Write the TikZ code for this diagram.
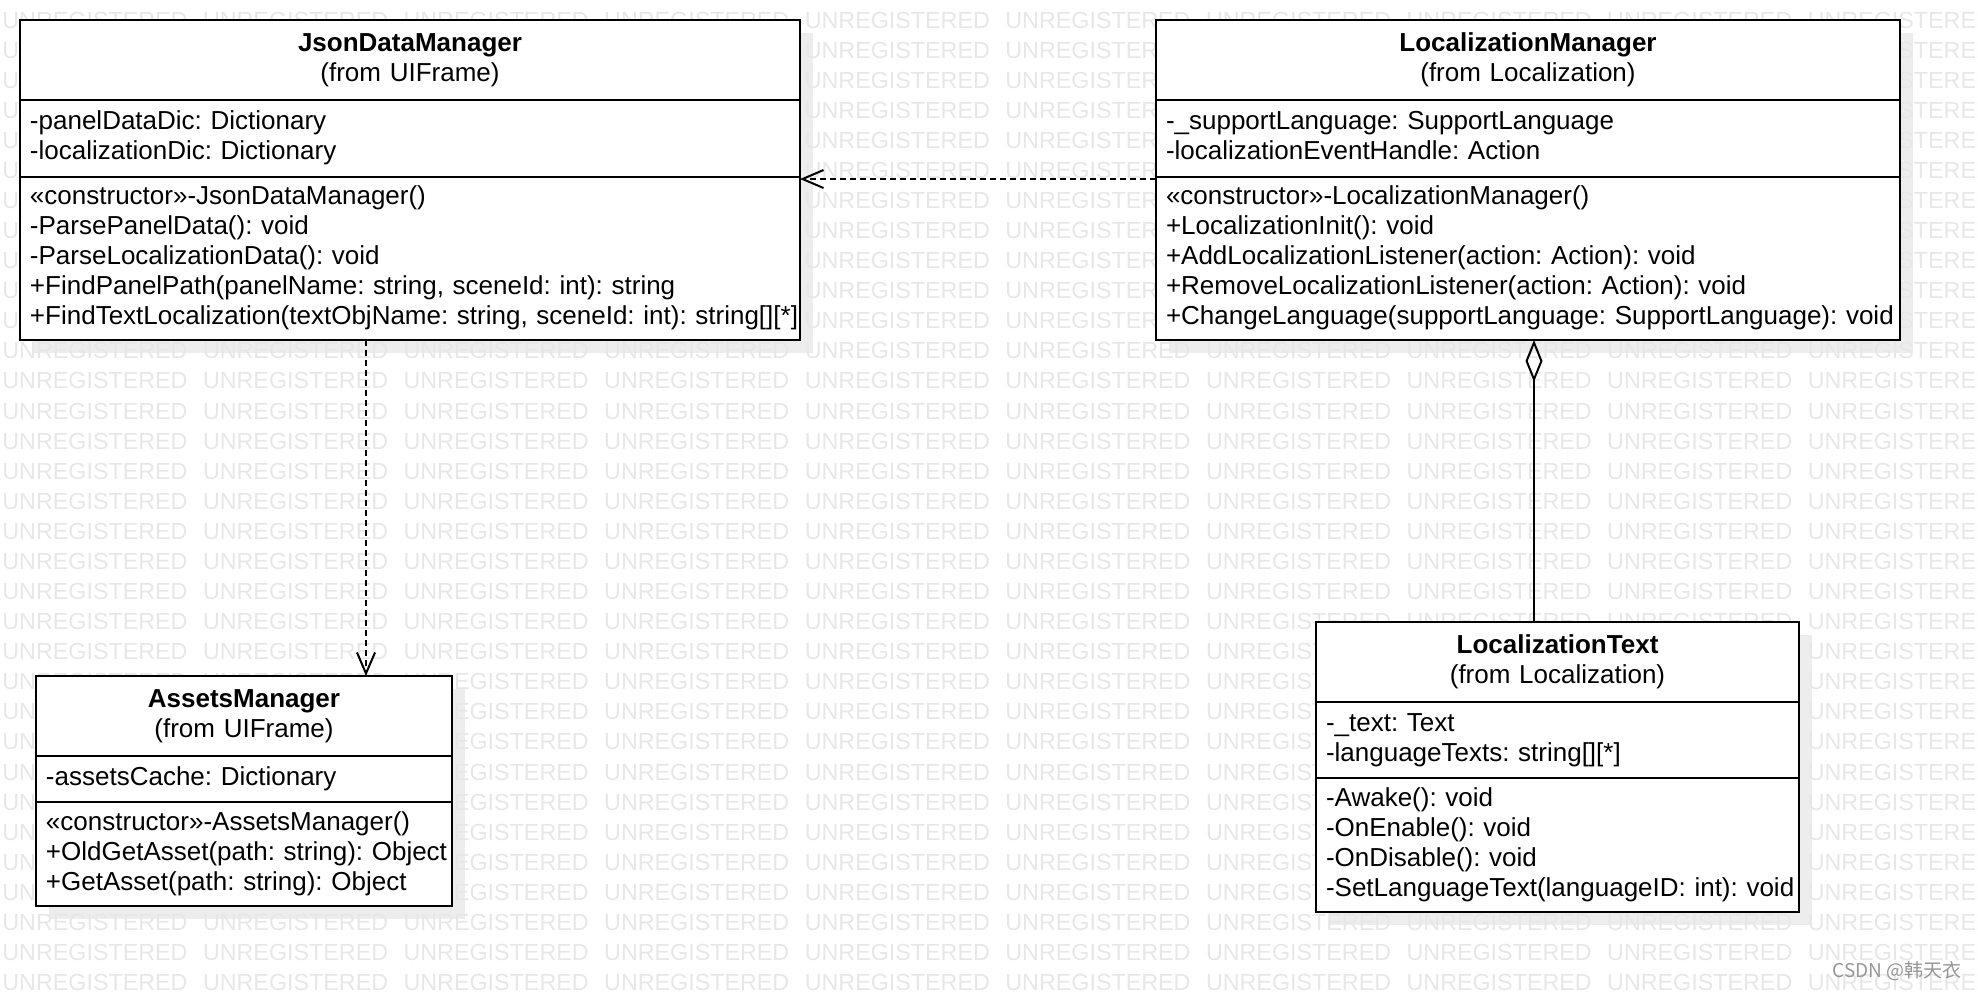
\documentclass[tikz,border=0pt]{standalone}
\usepackage{fontspec}
\setmainfont{Liberation Sans}
\newfontfamily\cjkfont{Noto Sans CJK SC}
\usepackage{tikz}
\usetikzlibrary{
	arrows.meta,
	calc,
	backgrounds,
	positioning
}
\definecolor{ShadowGray}{RGB}{237,237,237}
\definecolor{MarkGray}{RGB}{231,231,231}
\definecolor{NoteGray}{RGB}{150,150,150}
\frenchspacing
\newcommand{\umlfont}{\fontsize{13pt}{15pt}\selectfont}
\newcommand{\markfont}{\fontsize{11.65pt}{14pt}\selectfont}
\newcommand{\umlrows}[1]{\begin{tabular}{@{}l@{}}#1\end{tabular}}

\begin{document}
\begin{tikzpicture}[x=0.5pt, y=-0.5pt,
	umlpart/.style={draw, line width=1pt, fill=white, outer sep=0pt, inner xsep=5pt, inner ysep=0pt, font=\umlfont},
	umlhead/.style={umlpart, align=center, text width=#1},
	umlbody/.style={umlpart, align=left, text width=#1},
	depend/.style={line width=1pt, dash pattern=on 3pt off 2pt, -{Straight Barb[length=10.5pt, width=9pt]}},
	aggreg/.style={line width=1pt, {Diamond[open, length=21pt, width=8.5pt]}-}]

	\useasboundingbox (0,0) rectangle (1978,992);

	% JsonDataManager
	\node[umlhead=380pt, minimum height=40pt, anchor=north west] (jdmHead) at (20,20) {\textbf{JsonDataManager}\\(from UIFrame)};
	\node[umlbody=380pt, minimum height=38.5pt, below=0pt of jdmHead] (jdmAttr) {\umlrows{-panelDataDic: Dictionary\\
		-localizationDic: Dictionary}};
	\node[umlbody=380pt, minimum height=81.5pt, below=0pt of jdmAttr] (jdmOps) {\umlrows{«constructor»-JsonDataManager()\\
		-ParsePanelData(): void\\
		-ParseLocalizationData(): void\\
		+FindPanelPath(panelName: string, sceneId: int): string\\
		+FindTextLocalization(textObjName: string, sceneId: int): string[][*]}};

	% LocalizationManager
	\node[umlhead=362pt, minimum height=40pt, anchor=north west] (lmHead) at (1156,20) {\textbf{LocalizationManager}\\(from Localization)};
	\node[umlbody=362pt, minimum height=38.5pt, below=0pt of lmHead] (lmAttr) {\umlrows{-\_supportLanguage: SupportLanguage\\
		-localizationEventHandle: Action}};
	\node[umlbody=362pt, minimum height=81.5pt, below=0pt of lmAttr] (lmOps) {\umlrows{«constructor»-LocalizationManager()\\
		+LocalizationInit(): void\\
		+AddLocalizationListener(action: Action): void\\
		+RemoveLocalizationListener(action: Action): void\\
		+ChangeLanguage(supportLanguage: SupportLanguage): void}};

	% AssetsManager
	\node[umlhead=198pt, minimum height=40pt, anchor=north west] (amHead) at (36,676) {\textbf{AssetsManager}\\(from UIFrame)};
	\node[umlbody=198pt, minimum height=23pt, below=0pt of amHead] (amAttr) {\umlrows{-assetsCache: Dictionary}};
	\node[umlbody=198pt, minimum height=52pt, below=0pt of amAttr] (amOps) {\umlrows{«constructor»-AssetsManager()\\
		+OldGetAsset(path: string): Object\\
		+GetAsset(path: string): Object}};

	% LocalizationText
	\node[umlhead=231.5pt, minimum height=40pt, anchor=north west] (ltHead) at (1316,622) {\textbf{LocalizationText}\\(from Localization)};
	\node[umlbody=231.5pt, minimum height=38pt, below=0pt of ltHead] (ltAttr) {\umlrows{-\_text: Text\\
		-languageTexts: string[][*]}};
	\node[umlbody=231.5pt, minimum height=67pt, below=0pt of ltAttr] (ltOps) {\umlrows{-Awake(): void\\
		-OnEnable(): void\\
		-OnDisable(): void\\
		-SetLanguageText(languageID: int): void}};

	% 依赖与聚合
	\draw[depend] (lmOps.west |- 0,179) -- (jdmOps.east |- 0,179);
	\draw[depend] (jdmOps.south -| 366,0) -- (amHead.north -| 366,0);
	\draw[aggreg] (lmOps.south -| 1534,0) -- (ltHead.north -| 1534,0);

	% 阴影和水印
	\begin{scope}[on background layer]
		\fill[ShadowGray] ($(jdmHead.north west)+(13,13)$) rectangle ($(jdmOps.south east)+(13,13)$);
		\fill[ShadowGray] ($(lmHead.north west)+(13,13)$) rectangle ($(lmOps.south east)+(13,13)$);
		\fill[ShadowGray] ($(amHead.north west)+(13,13)$) rectangle ($(amOps.south east)+(13,13)$);
		\fill[ShadowGray] ($(ltHead.north west)+(13,13)$) rectangle ($(ltOps.south east)+(13,13)$);
		\foreach \r in {0,...,32}
			\foreach \c in {0,...,9}
				\node[anchor=base west, inner sep=0pt, font=\markfont, text=MarkGray] (mark-\r-\c) at ({2+200.6*\c}, {28+30.08*\r}) {UNREGISTERED};
	\end{scope}

	\node[anchor=base east, inner sep=0pt, font=\cjkfont\fontsize{9.5pt}{11pt}\selectfont, text=NoteGray] (csdn) at (1962,977) {CSDN @韩天衣};

\end{tikzpicture}
\end{document}
